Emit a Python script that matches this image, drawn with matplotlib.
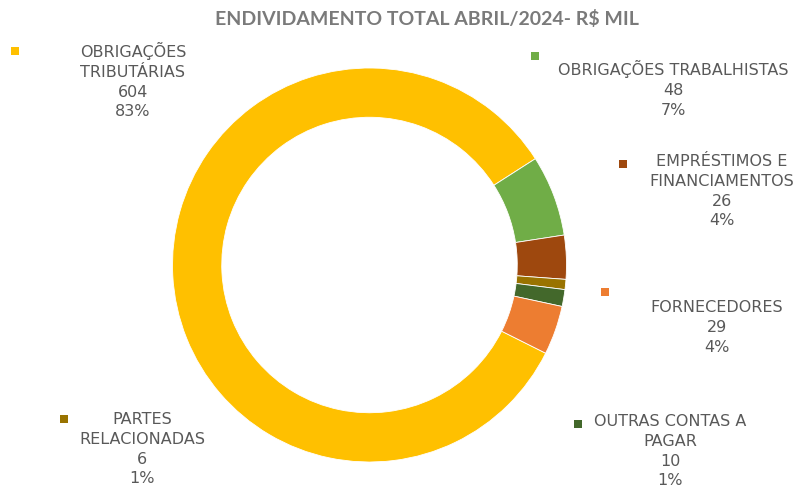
import matplotlib
matplotlib.use("Agg")
import matplotlib.pyplot as plt
from matplotlib.patches import Rectangle

# Debt composition, April 2024 (R$ thousand)
categories = [
    "OBRIGAÇÕES\nTRIBUTÁRIAS",
    "OBRIGAÇÕES TRABALHISTAS",
    "EMPRÉSTIMOS E\nFINANCIAMENTOS",
    "PARTES\nRELACIONADAS",
    "OUTRAS CONTAS A\nPAGAR",
    "FORNECEDORES",
]
values = [604, 48, 26, 6, 10, 29]
percent_labels = ["83%", "7%", "4%", "1%", "1%", "4%"]
colors = ["#FFC000", "#70AD47", "#9E480E", "#997300", "#43682B", "#ED7D31"]

W, H = 799, 491
fig = plt.figure(figsize=(W / 100, H / 100), dpi=100)
fig.patch.set_facecolor("white")

# donut: center (369.5, 265) px, outer radius 197 px
cx, cy, r = 369.5, 265, 197
ax = fig.add_axes([(cx - r) / W, (H - cy - r) / H, 2 * r / W, 2 * r / H])
ax.pie(values, colors=colors, startangle=-26.6, counterclock=False,
       radius=1.0, wedgeprops=dict(width=0.25, edgecolor="white", linewidth=0.6))
ax.set_xlim(-1, 1)
ax.set_ylim(-1, 1)
ax.set_aspect("equal")
ax.axis("off")

text_color = "#595959"
font = ["DejaVu Sans"]

fig.text(427 / W, 1 - 19 / H, "ENDIVIDAMENTO TOTAL ABRIL/2024- R$ MIL",
         ha="center", va="center", fontsize=14, fontweight="bold",
         color="#7a7a7a", family=["Lato", "DejaVu Sans"])

# label blocks: (text center x, first line y, marker x, marker y) in px
label_layout = [
    (133, 52, 15, 51),
    (673, 70, 535, 56),
    (722, 164, 623, 164),
    (142, 422, 64, 419),
    (670, 424, 578, 424),
    (717, 310, 605, 292),
]

for name, val, pct, col, (tx, ty, mx, my) in zip(
        categories, values, percent_labels, colors, label_layout):
    txt = f"{name}\n{val}\n{pct}"
    fig.text(tx / W, 1 - (ty - 10) / H, txt, ha="center", va="top",
             fontsize=11.5, color=text_color, family=font, linespacing=1.4)
    s = 8
    fig.patches.append(Rectangle(((mx - s / 2) / W, 1 - (my + s / 2) / H),
                                 s / W, s / H, transform=fig.transFigure,
                                 facecolor=col, edgecolor="none"))

fig.savefig("out.png", dpi=100)
